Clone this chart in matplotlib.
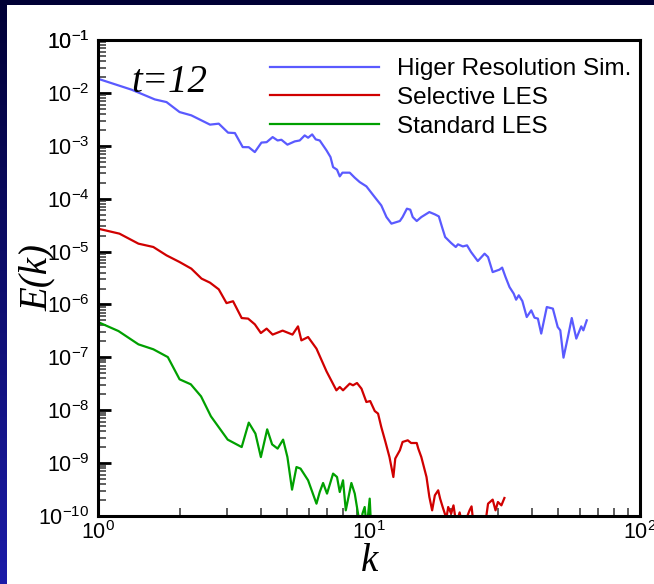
import numpy as np
import matplotlib
matplotlib.use("Agg")
import matplotlib.pyplot as plt
from matplotlib.patches import Rectangle
from matplotlib.ticker import FixedLocator, NullFormatter

# ------------------------------------------------------------------
#   Energy spectra at t=12
# ------------------------------------------------------------------
k_hr = [1.0, 1.33, 1.62, 1.79, 2.0, 2.21, 2.59, 2.79, 3.02, 3.2,
        3.42, 3.6, 3.79, 4.01, 4.19, 4.41, 4.6, 4.75, 5.0, 5.32,
        5.55, 5.79, 5.96, 6.17, 6.36, 6.58, 6.97, 7.21, 7.37, 7.62,
        7.8, 7.98, 8.49, 8.86, 9.24, 9.78, 10.5, 11.1, 11.6, 12.1,
        13.0, 13.3, 13.8, 14.2, 14.5, 15.0, 15.6, 16.7, 17.5, 18.1,
        18.6, 19.1, 20.1, 20.9, 21.3, 22.2, 23.0, 23.8, 25.2, 26.7,
        27.5, 28.6, 30.3, 31.0, 31.9, 33.0, 34.2, 34.9, 35.7, 36.8,
        38.2, 39.7, 40.8, 42.0, 43.2, 45.3, 47.7, 49.7, 50.8, 52.2,
        54.2, 56.0, 58.2, 60.7, 61.8, 63.6]
E_hr = [1.85e-2, 1.15e-2, 7.53e-3, 6.70e-3, 4.34e-3, 3.76e-3, 2.51e-3, 2.62e-3, 1.77e-3, 1.74e-3,
        9.44e-4, 9.4e-4, 7.60e-4, 1.15e-3, 1.17e-3, 1.46e-3, 1.26e-3, 1.30e-3, 1.05e-3, 1.21e-3,
        1.26e-3, 1.57e-3, 1.42e-3, 1.64e-3, 1.32e-3, 1.26e-3, 8.18e-4, 6.11e-4, 3.95e-4, 3.53e-4,
        2.64e-4, 3.10e-4, 3.10e-4, 2.49e-4, 2.06e-4, 1.71e-4, 1.07e-4, 7.46e-5, 4.49e-5, 3.37e-5,
        3.78e-5, 4.49e-5, 6.47e-5, 6.19e-5, 4.49e-5, 3.78e-5, 4.49e-5, 5.58e-5, 5.05e-5, 4.62e-5,
        2.90e-5, 1.88e-5, 1.45e-5, 1.22e-5, 1.37e-5, 1.25e-5, 1.31e-5, 9.79e-6, 6.61e-6, 9.12e-6,
        7.87e-6, 4.09e-6, 4.55e-6, 4.97e-6, 3.30e-6, 2.13e-6, 1.60e-6, 1.23e-6, 1.49e-6, 1.16e-6,
        5.78e-7, 7.73e-7, 5.62e-7, 5.40e-7, 2.81e-7, 8.93e-7, 8.34e-7, 3.74e-7, 3.24e-7, 9.86e-8,
        2.42e-7, 5.53e-7, 2.26e-7, 3.85e-7, 3.24e-7, 5.00e-7]

k_sel = [1.0, 1.2, 1.41, 1.6, 1.79, 2.0, 2.21, 2.41, 2.59, 2.79,
         2.98, 3.15, 3.39, 3.58, 3.79, 3.99, 4.19, 4.41, 4.8, 5.22,
         5.47, 5.63, 5.96, 6.4, 6.97, 7.58, 7.8, 8.02, 8.49, 8.73,
         9.03, 9.38, 9.78, 10.1, 10.5, 10.8, 11.1, 11.5, 11.9, 12.3,
         12.5, 13.0, 13.3, 13.9, 14.3, 15.0, 15.2, 15.6, 16.3, 16.7,
         17.1, 17.5, 18.0, 18.3, 18.7, 19.3, 19.6, 20.1, 20.5, 21.0,
         21.6, 22.2, 23.5, 23.9, 24.3, 25.6, 27.1, 27.5, 28.6, 29.3,
         29.9, 30.8, 31.6]
E_sel = [2.71e-5, 2.18e-5, 1.41e-5, 1.22e-5, 8.47e-6, 6.34e-6, 4.75e-6, 3.08e-6, 2.58e-6, 1.93e-6,
         1.06e-6, 1.15e-6, 5.53e-7, 5.40e-7, 4.21e-7, 2.88e-7, 3.49e-7, 2.69e-7, 3.20e-7, 2.69e-7,
         3.85e-7, 2.09e-7, 2.42e-7, 1.46e-7, 5.43e-8, 2.38e-8, 2.75e-8, 2.38e-8, 3.18e-8, 2.96e-8,
         3.27e-8, 2.56e-8, 1.43e-8, 1.49e-8, 9.66e-9, 8.63e-9, 4.81e-9, 2.51e-9, 1.30e-9, 5.46e-10,
         1.22e-9, 1.75e-9, 2.51e-9, 2.70e-9, 2.40e-9, 2.40e-9, 1.88e-9, 1.30e-9, 5.46e-10, 2.29e-10,
         1.28e-10, 2.46e-10, 3.06e-10, 2.13e-10, 1.48e-10, 9e-11, 1.48e-10, 1.11e-10, 1.59e-10, 7e-11,
         1.17e-10, 6e-11, 1.28e-10, 1.52e-10, 7e-11, 5e-11, 1.0e-10, 1.71e-10, 2.04e-10, 1.28e-10,
         1.84e-10, 1.59e-10, 2.19e-10]

k_std = [1.0, 1.19, 1.41, 1.6, 1.81, 2.0, 2.2, 2.4, 2.61, 3.01,
         3.39, 3.6, 3.81, 3.99, 4.21, 4.39, 4.6, 4.82, 5.0, 5.2,
         5.4, 5.59, 5.96, 6.4, 6.58, 6.77, 7.0, 7.37, 7.62, 7.8,
         8.02, 8.21, 8.61, 8.86, 9.11, 9.32, 9.46, 9.64, 9.81, 10.06,
         10.2]
E_std = [4.65e-7, 3.14e-7, 1.76e-7, 1.42e-7, 1.01e-7, 3.84e-8, 3.09e-8, 1.83e-8, 7.67e-9, 2.78e-9,
         2.01e-9, 5.83e-9, 3.61e-9, 1.30e-9, 4.35e-9, 2.26e-9, 1.88e-9, 2.78e-9, 1.30e-9, 3.15e-10,
         8.43e-10, 7.87e-10, 4.73e-10, 1.71e-10, 2.84e-10, 4.21e-10, 2.65e-10, 6.33e-10, 5.46e-10, 2.84e-10,
         4.73e-10, 1.28e-10, 4.21e-10, 2.65e-10, 1.11e-10, 6e-11, 1.11e-10, 1.48e-10, 6e-11, 2.13e-10,
         5e-11]

labels = ["Higer Resolution Sim.", "Selective LES", "Standard LES"]
colors = ["#5a5aff", "#d00000", "#00a000"]

x_decades = [0, 1, 2]
y_decades = list(range(-10, 0))

# ------------------------------------------------------------------
#   Plotting
# ------------------------------------------------------------------
plt.rcParams['font.family'] = ['Liberation Sans', 'DejaVu Sans']
plt.rcParams['mathtext.fontset'] = 'custom'
plt.rcParams['mathtext.rm'] = 'Liberation Sans'
plt.rcParams['mathtext.it'] = 'Liberation Sans:italic'

W, H = 654, 584
fig = plt.figure(figsize=(W / 100, H / 100), dpi=100, facecolor='#000033')

# slide-like background: blue gradient strip on the left, white panel
bg = fig.add_axes([0, 0, 1, 1], zorder=-5)
grad = np.linspace(0, 1, 256).reshape(-1, 1)
bg.imshow(grad, aspect='auto', extent=[0, 1, 0, 1], origin='upper',
          cmap=matplotlib.colors.LinearSegmentedColormap.from_list('bgc', ['#000035', '#1c1ca8']))
bg.add_patch(Rectangle((7 / W, 0), 1, 1 - 5 / H, facecolor='white', edgecolor='none'))
bg.set_xlim(0, 1)
bg.set_ylim(0, 1)
bg.axis('off')

x0, x1 = 98, 640
y0, y1 = 40, 516
ax = fig.add_axes([x0 / W, 1 - y1 / H, (x1 - x0) / W, (y1 - y0) / H])
ax.set_facecolor('white')

ax.plot(k_hr, E_hr, color=colors[0], lw=1.6, label=labels[0])
ax.plot(k_sel, E_sel, color=colors[1], lw=1.6, label=labels[1])
ax.plot(k_std, E_std, color=colors[2], lw=1.6, label=labels[2])

ax.set_xscale('log')
ax.set_yscale('log')
ax.set_xlim(1, 100)
ax.set_ylim(1e-10, 1e-1)

# decade ticks plus 2..9 minor ticks
ax.xaxis.set_major_locator(FixedLocator([10.0 ** p for p in x_decades]))
ax.yaxis.set_major_locator(FixedLocator([10.0 ** p for p in y_decades + [-1]]))
x_minor = [m * 10.0 ** p for p in x_decades[:-1] for m in range(2, 10)]
y_minor = [m * 10.0 ** p for p in y_decades for m in range(2, 10)]
ax.xaxis.set_minor_locator(FixedLocator(x_minor))
ax.yaxis.set_minor_locator(FixedLocator(y_minor))
ax.xaxis.set_minor_formatter(NullFormatter())
ax.yaxis.set_minor_formatter(NullFormatter())

for s in ax.spines.values():
    s.set_linewidth(2.2)
ax.tick_params(which='both', direction='in', left=True, bottom=True,
               top=False, right=False, labelsize=15.5)
ax.tick_params(which='major', length=9, width=2.0, color='black')
ax.tick_params(which='minor', length=5.5, width=1.1, color='#333333')
ax.tick_params(axis='y', which='major', pad=6)
ax.tick_params(axis='x', which='major', pad=4)

ax.set_xlabel('k', fontsize=28, fontstyle='italic', family='Liberation Serif', va='center')
ax.xaxis.set_label_coords(0.501, -0.095)
ax.set_ylabel('E(k)', fontsize=28, fontstyle='italic', family='Liberation Serif', va='center')
ax.yaxis.set_label_coords(-0.112, 0.501)

ax.text(0.061, 0.890, 't=12', transform=ax.transAxes, fontsize=28,
        fontstyle='italic', family='Liberation Serif', ha='left', va='baseline')

ax.legend(loc='upper left', bbox_to_anchor=(0.317, 0.962), frameon=False,
          fontsize=17.5, handlelength=4.5, handletextpad=0.74, labelspacing=0.28,
          borderpad=0, borderaxespad=0)

fig.savefig('out.png', dpi=100, facecolor=fig.get_facecolor())
